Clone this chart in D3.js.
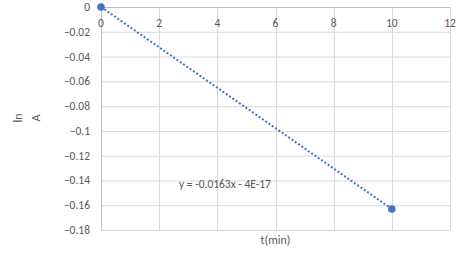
<!DOCTYPE html>
<html>
<head>
<meta charset="utf-8">
<script src="https://cdn.jsdelivr.net/npm/d3@7"></script>
<style>
  body { margin: 0; background: #fff; }
  text { font-family: Calibri, Carlito, "Liberation Sans", Arial, sans-serif; }
</style>
</head>
<body>
<div id="chart"></div>
<script>
const timeValues = [0, 10];
const lnAValues = [0, -0.163];
const xTicks = [0, 2, 4, 6, 8, 10, 12];
const yTicks = [0, -0.02, -0.04, -0.06, -0.08, -0.1, -0.12, -0.14, -0.16, -0.18];
const trendSlope = -0.0163;
const trendLabel = "y = -0.0163x - 4E-17";

const width = 465, height = 271;
const svg = d3.select("#chart").append("svg")
  .attr("width", width)
  .attr("height", height);

const x = d3.scaleLinear().domain([0, 12]).range([101, 450]);
const y = d3.scaleLinear().domain([0, -0.18]).range([7, 230]);

// grid
svg.append("g").selectAll("line.h")
  .data(yTicks.slice(1))
  .join("line")
  .attr("x1", x(0)).attr("x2", x(12))
  .attr("y1", d => y(d) + 0.5).attr("y2", d => y(d) + 0.5)
  .attr("stroke", "#d9d9d9").attr("stroke-width", 1);

svg.append("g").selectAll("line.v")
  .data(xTicks.slice(1))
  .join("line")
  .attr("x1", d => Math.round(x(d)) + 0.5).attr("x2", d => Math.round(x(d)) + 0.5)
  .attr("y1", y(0)).attr("y2", y(-0.18))
  .attr("stroke", "#d9d9d9").attr("stroke-width", 1);

// axis lines
svg.append("line")
  .attr("x1", x(0)).attr("x2", x(12))
  .attr("y1", y(0) + 0.5).attr("y2", y(0) + 0.5)
  .attr("stroke", "#bfbfbf");
svg.append("line")
  .attr("x1", x(0) + 0.5).attr("x2", x(0) + 0.5)
  .attr("y1", y(0)).attr("y2", y(-0.18))
  .attr("stroke", "#bfbfbf");

// tick labels
svg.append("g").selectAll("text")
  .data(yTicks)
  .join("text")
  .attr("x", 90)
  .attr("y", d => y(d) + 4)
  .attr("text-anchor", "end")
  .attr("font-size", 11.5)
  .attr("fill", "#595959")
  .text(d => d3.format("")(d));

svg.append("g").selectAll("text")
  .data(xTicks)
  .join("text")
  .attr("x", d => x(d))
  .attr("y", 27)
  .attr("text-anchor", "middle")
  .attr("font-size", 11.5)
  .attr("fill", "#595959")
  .text(d => d);

// trendline
const trend = d3.line().x(d => x(d)).y(d => y(trendSlope * d));
svg.append("path")
  .attr("d", trend([0, 10]))
  .attr("fill", "none")
  .attr("stroke", "#4472c4")
  .attr("stroke-width", 2)
  .attr("stroke-dasharray", "2,2");

// points
svg.append("g").selectAll("circle")
  .data(timeValues.map((t, i) => [t, lnAValues[i]]))
  .join("circle")
  .attr("cx", d => x(d[0]))
  .attr("cy", d => y(d[1]))
  .attr("r", 3.8)
  .attr("fill", "#4472c4");

// trendline label
svg.append("text")
  .attr("x", 179)
  .attr("y", 188)
  .attr("font-size", 11.5)
  .attr("fill", "#595959")
  .text(trendLabel);

// axis titles
svg.append("text")
  .attr("x", x(6))
  .attr("y", 244)
  .attr("text-anchor", "middle")
  .attr("font-size", 12)
  .attr("fill", "#595959")
  .text("t(min)");

const yTitle = svg.append("text")
  .attr("transform", "translate(22,118) rotate(-90)")
  .attr("text-anchor", "middle")
  .attr("font-size", 12)
  .attr("fill", "#595959");
yTitle.append("tspan").attr("x", 0).attr("dy", 0).text("ln");
yTitle.append("tspan").attr("x", 0).attr("dy", 18).text("A");
</script>
</body>
</html>
